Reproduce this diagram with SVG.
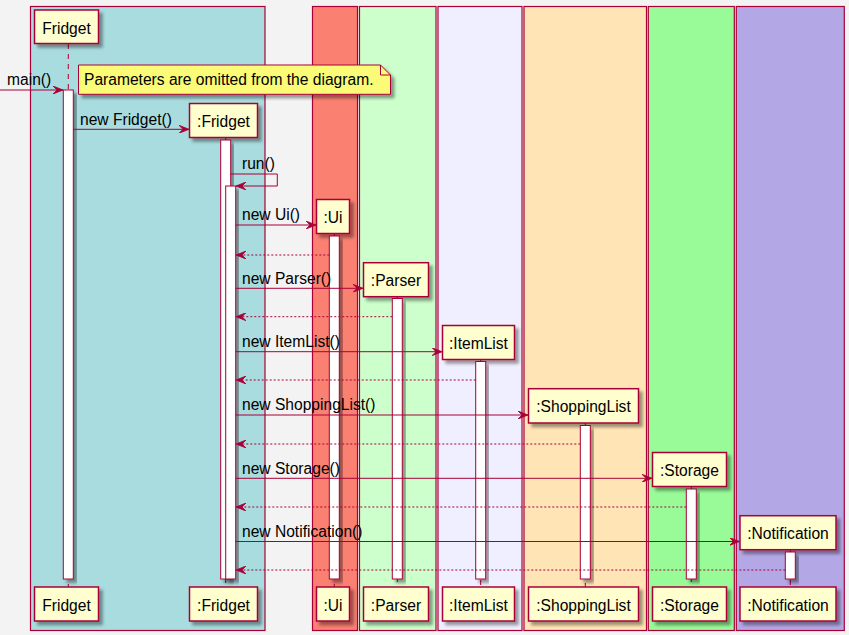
<svg xmlns="http://www.w3.org/2000/svg" width="849" height="635" viewBox="0 0 849 635">
<defs>
<filter id="sh" x="-30%" y="-10%" width="160%" height="130%">
<feDropShadow dx="3.5" dy="3.5" stdDeviation="1.6" flood-color="#000" flood-opacity="0.38"/>
</filter>
<marker id="ah" viewBox="0 0 10 8" refX="10" refY="4" markerWidth="10" markerHeight="8" markerUnits="userSpaceOnUse" orient="auto">
<polygon points="0,0 10,4 0,8 4,4" fill="#A80036" stroke="#A80036" stroke-width="0.8"/>
</marker>
</defs>
<style>
text{font-family:"Liberation Sans",Arial,sans-serif;font-size:15.6px;fill:#000}
.box{stroke:#A80036;stroke-width:1.2}
.life{stroke:#A80036;stroke-width:1;stroke-dasharray:5,5;fill:none}
.part rect{fill:#FEFECE;stroke:#A80036;stroke-width:1.5;filter:url(#sh)}
.part text{text-anchor:middle}
.act{fill:#FFFFFF;stroke:#A80036;stroke-width:1;filter:url(#sh)}
.msg{stroke:#A80036;stroke-width:1;fill:none;marker-end:url(#ah)}
.ret{stroke:#A80036;stroke-width:1;fill:none;stroke-dasharray:2,2;marker-end:url(#ah)}
</style>
<rect x="0" y="0" width="849" height="635" fill="#F3F3F3"/>
<g id="boxes">
<rect class="box" x="30.5" y="6.5" width="234.5" height="624" fill="#A9DCDF"/>
<rect class="box" x="312.5" y="6.5" width="45" height="624" fill="#FA8072"/>
<rect class="box" x="359.5" y="6.5" width="76.5" height="624" fill="#CCFFCC"/>
<rect class="box" x="438" y="6.5" width="84" height="624" fill="#F0EFFF"/>
<rect class="box" x="524" y="6.5" width="122.5" height="624" fill="#FFE4B5"/>
<rect class="box" x="648.3" y="6.5" width="86" height="624" fill="#98FB98"/>
<rect class="box" x="736.3" y="6.5" width="108" height="624" fill="#B4A7E5"/>
</g>
<g id="lifelines">
<line class="life" x1="68.3" y1="44" x2="68.3" y2="587"/>
<line class="life" x1="225.7" y1="138" x2="225.7" y2="587"/>
<line class="life" x1="334.3" y1="234" x2="334.3" y2="587"/>
<line class="life" x1="397.3" y1="297" x2="397.3" y2="587"/>
<line class="life" x1="480.7" y1="360" x2="480.7" y2="587"/>
<line class="life" x1="585.3" y1="423" x2="585.3" y2="587"/>
<line class="life" x1="691.3" y1="487" x2="691.3" y2="587"/>
<line class="life" x1="790.3" y1="550" x2="790.3" y2="587"/>
</g>
<g id="Fridget" class="part">
<rect x="34.5" y="10" width="64" height="33.5"/><text x="66.5" y="33.5">Fridget</text>
<rect x="34.5" y="587" width="64" height="34"/><text x="66.5" y="610.5">Fridget</text>
</g>
<g id="FridgetObj" class="part">
<rect x="189.5" y="103.5" width="68" height="34"/><text x="223.5" y="127">:Fridget</text>
<rect x="189.5" y="587" width="68" height="34"/><text x="223.5" y="610.5">:Fridget</text>
</g>
<g id="Ui" class="part">
<rect x="316.5" y="199.5" width="33" height="34"/><text x="333" y="223">:Ui</text>
<rect x="316.5" y="587" width="33" height="34"/><text x="333" y="610.5">:Ui</text>
</g>
<g id="Parser" class="part">
<rect x="363.5" y="262.7" width="65" height="34"/><text x="396" y="286.2">:Parser</text>
<rect x="363.5" y="587" width="65" height="34"/><text x="396" y="610.5">:Parser</text>
</g>
<g id="ItemList" class="part">
<rect x="442.5" y="325.5" width="72" height="34"/><text x="478.5" y="349">:ItemList</text>
<rect x="442.5" y="587" width="72" height="34"/><text x="478.5" y="610.5">:ItemList</text>
</g>
<g id="ShoppingList" class="part">
<rect x="528.5" y="388.7" width="110" height="34.3"/><text x="583.5" y="412.2">:ShoppingList</text>
<rect x="528.5" y="587" width="110" height="34"/><text x="583.5" y="610.5">:ShoppingList</text>
</g>
<g id="Storage" class="part">
<rect x="652.5" y="452.5" width="74" height="34"/><text x="689.5" y="476">:Storage</text>
<rect x="652.5" y="587" width="74" height="34"/><text x="689.5" y="610.5">:Storage</text>
</g>
<g id="Notification" class="part">
<rect x="740" y="515.7" width="96" height="34"/><text x="788" y="539.2">:Notification</text>
<rect x="740" y="587" width="96" height="34"/><text x="788" y="610.5">:Notification</text>
</g>
<g id="activations">
<rect class="act" x="63.3" y="90" width="10" height="489"/>
<rect class="act" x="220.7" y="140" width="10" height="439"/>
<rect class="act" x="225.7" y="186" width="10" height="393"/>
<rect class="act" x="329.3" y="236" width="10" height="343"/>
<rect class="act" x="392.3" y="298.5" width="10" height="280.5"/>
<rect class="act" x="475.7" y="361.5" width="10" height="217.5"/>
<rect class="act" x="580.3" y="425.5" width="10" height="153.5"/>
<rect class="act" x="686.3" y="489" width="10" height="90"/>
<rect class="act" x="785.3" y="552" width="10" height="27"/>
</g>
<g id="connectors">
<line class="msg" x1="0" y1="90" x2="63" y2="90"/>
<line class="msg" x1="73.3" y1="129.3" x2="189" y2="129.3"/>
<polyline class="msg" points="230.7,174 277.3,174 277.3,186 236,186"/>
<line class="msg" x1="235.7" y1="225" x2="316" y2="225"/>
<line class="ret" x1="329.3" y1="255" x2="236" y2="255"/>
<line class="msg" x1="235.7" y1="288.3" x2="363" y2="288.3"/>
<line class="ret" x1="392.3" y1="316.7" x2="236" y2="316.7"/>
<line class="msg" x1="235.7" y1="351.7" x2="442" y2="351.7"/>
<line class="ret" x1="475.7" y1="380" x2="236" y2="380"/>
<line class="msg" x1="235.7" y1="415" x2="528" y2="415"/>
<line class="ret" x1="580.3" y1="444" x2="236" y2="444"/>
<line class="msg" x1="235.7" y1="478.3" x2="652" y2="478.3"/>
<line class="ret" x1="686.3" y1="507" x2="236" y2="507"/>
<line class="msg" x1="235.7" y1="541.5" x2="739.5" y2="541.5"/>
<line class="ret" x1="785.3" y1="570" x2="236" y2="570"/>
</g>
<g id="labels">
<text x="7" y="85.2">main()</text>
<text x="80" y="124.5">new Fridget()</text>
<text x="242" y="168.5">run()</text>
<text x="242" y="220.3">new Ui()</text>
<text x="242" y="283.6">new Parser()</text>
<text x="242" y="347">new ItemList()</text>
<text x="242" y="410.3">new ShoppingList()</text>
<text x="242" y="473.6">new Storage()</text>
<text x="242" y="536.8">new Notification()</text>
</g>
<g id="note">
<polygon points="78.5,65 380.5,65 390.5,75 390.5,94.3 78.5,94.3" fill="#FBFB77" stroke="#A80036" stroke-width="1" filter="url(#sh)"/>
<polyline points="380.5,65 380.5,75 390.5,75" fill="none" stroke="#A80036" stroke-width="1"/>
<text x="84" y="85.2">Parameters are omitted from the diagram.</text>
</g>
</svg>
